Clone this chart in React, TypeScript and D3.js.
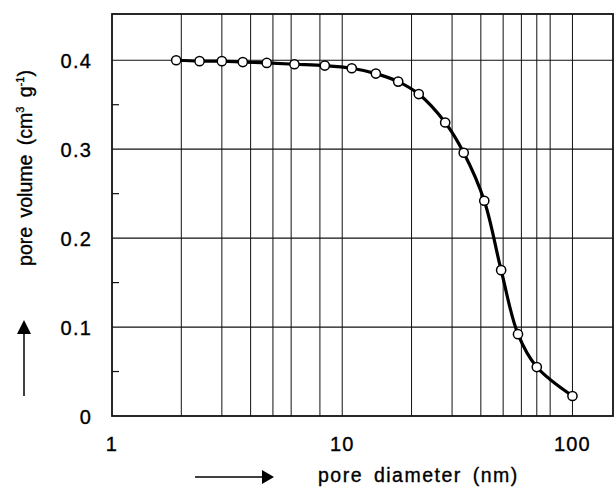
import React from "react";
import * as d3 from "d3";

const diameters = [1.9, 2.4, 3.0, 3.7, 4.7, 6.2, 8.4, 11, 14, 17.5, 21.5, 28, 33.7, 41.4, 49, 58, 70, 100];
const volumes = [0.4, 0.399, 0.399, 0.398, 0.397, 0.3955, 0.394, 0.391, 0.385, 0.376, 0.362, 0.33, 0.296, 0.242, 0.164, 0.092, 0.055, 0.0225];
const xGrid = [2, 3, 4, 5, 6, 8, 10, 20, 30, 40, 50, 60, 70, 80, 100];
const xTickLabels = [1, 10, 100];
const yGrid = [0.1, 0.2, 0.3, 0.4];
const yTickLabels = [0, 0.1, 0.2, 0.3, 0.4];
const yMinor = [0.05, 0.15, 0.25, 0.35];

const W = 615;
const H = 488;
const L = 112, R = 613, T = 14, B = 416;
const FONT = "'Liberation Sans', Arial, Helvetica, sans-serif";

export default function App() {
  const x = d3.scaleLog().domain([1, 150]).range([L, R]);
  const y = d3.scaleLinear().domain([0, 0.452]).range([B, T]);
  const pts: [number, number][] = diameters.map((d, i) => [x(d), y(volumes[i])]);
  const line = d3.line().curve(d3.curveCatmullRom.alpha(0.5))(pts) || "";
  const txt = { fill: "#000", stroke: "#000", strokeWidth: 0.35 };

  return (
    <svg width={W} height={H} style={{ position: "absolute", left: 0, top: 0, background: "#fff" }}
      fontFamily={FONT}>
      <rect x={0} y={0} width={W} height={H} fill="#fff" />
      {/* grid */}
      {xGrid.map((g) => (
        <line key={"xg" + g} x1={x(g)} x2={x(g)} y1={T} y2={B} stroke="#111" strokeWidth={1} />
      ))}
      {yGrid.map((g) => (
        <line key={"yg" + g} x1={L} x2={R} y1={y(g)} y2={y(g)} stroke="#111" strokeWidth={1.2} />
      ))}
      {yMinor.map((g) => (
        <line key={"ym" + g} x1={L} x2={L + 7} y1={y(g)} y2={y(g)} stroke="#111" strokeWidth={1.2} />
      ))}
      {/* frame */}
      <rect x={L} y={T} width={R - L} height={B - T} fill="none" stroke="#111" strokeWidth={1.8} />
      {/* curve */}
      <path d={line} fill="none" stroke="#000" strokeWidth={3.2} strokeLinejoin="round" />
      {pts.map((p, i) => (
        <circle key={"p" + i} cx={p[0]} cy={p[1]} r={4.6} fill="#fff" stroke="#000" strokeWidth={1.5} />
      ))}
      {/* y tick labels */}
      {yTickLabels.map((v) => (
        <text key={"yt" + v} x={92} y={y(v) + 7.5} textAnchor="end" fontSize={20} letterSpacing={1.2} {...txt}>
          {v === 0 ? "0" : d3.format(".1f")(v)}
        </text>
      ))}
      {/* x tick labels */}
      {xTickLabels.map((v) => (
        <text key={"xt" + v} x={x(v)} y={451} textAnchor="middle" fontSize={20} letterSpacing={1.2} {...txt}>
          {String(v)}
        </text>
      ))}
      {/* x axis title */}
      <text x={318} y={482} fontSize={19.5} letterSpacing={1.5} wordSpacing={4} {...txt}>
        pore diameter (nm)
      </text>
      <line x1={195} x2={263} y1={477} y2={477} stroke="#000" strokeWidth={1.5} />
      <path d="M262,470 L274,477 L262,484 Z" fill="#000" />
      {/* y axis title */}
      <text transform="translate(32,168) rotate(-90)" textAnchor="middle" fontSize={19.5} wordSpacing={4} {...txt}>
        pore volume (cm<tspan fontSize={11} dy={-8}>3</tspan><tspan dy={8}> g</tspan><tspan fontSize={11} dy={-8}>-1</tspan><tspan dy={8}>)</tspan>
      </text>
      <line x1={24} x2={24} y1={332} y2={396} stroke="#000" strokeWidth={1.5} />
      <path d="M17,334 L24,320 L31,334 Z" fill="#000" />
    </svg>
  );
}
